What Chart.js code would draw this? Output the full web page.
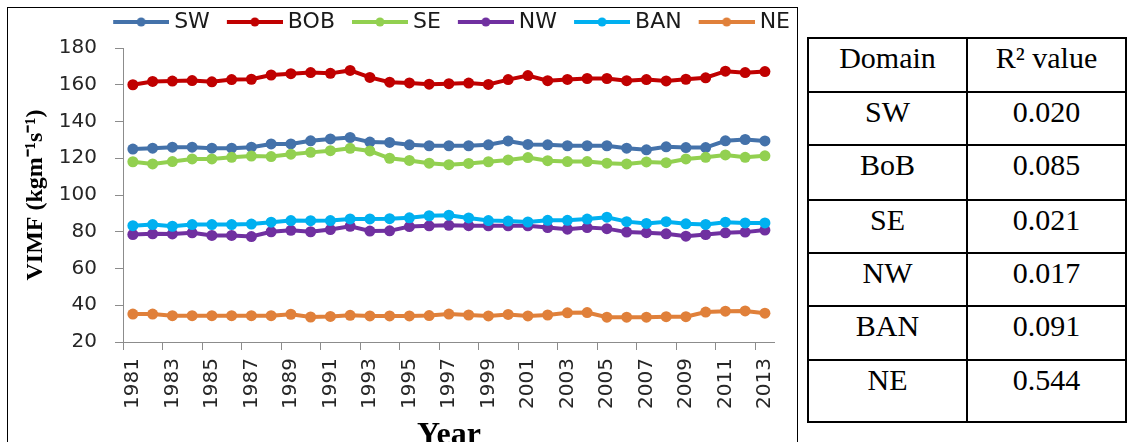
<!DOCTYPE html>
<html>
<head>
<meta charset="utf-8">
<script src="https://cdn.jsdelivr.net/npm/chart.js@4.4.0/dist/chart.umd.min.js"></script>
<style>
  html, body { margin: 0; padding: 0; background: #fff; width: 1127px; height: 442px; overflow: hidden; }
  .chart-box { position: absolute; left: 7px; top: 7px; width: 789px; height: 460px; border: 1px solid #000; }
  .chart-wrap { position: absolute; left: 0; top: 0; width: 789px; height: 450px; }
  table.r2 {
    position: absolute; left: 807px; top: 37px; border-collapse: collapse; table-layout: fixed;
    font-family: "Liberation Serif", "Times New Roman", serif; font-size: 30px; color: #000;
  }
  table.r2 td { border: 2px solid #000; text-align: center; vertical-align: top; padding: 2px 0 0 0; }
</style>
</head>
<body>
<div class="chart-box">
  <div class="chart-wrap"><canvas id="vimfChart"></canvas></div>
</div>
<table class="r2" id="r2Table">
  <colgroup><col style="width:159px"><col style="width:159px"></colgroup>
  <tbody></tbody>
</table>
<script>
// --- Dados ---
const years = ['1981','1982','1983','1984','1985','1986','1987','1988','1989','1990','1991',
               '1992','1993','1994','1995','1996','1997','1998','1999','2000','2001','2002',
               '2003','2004','2005','2006','2007','2008','2009','2010','2011','2012','2013'];

const swValues  = [125, 125.5, 126, 126, 125.5, 125.5, 126, 127.8, 127.8, 129.5, 130.5, 131.3, 128.8, 128.6, 127.3, 126.8, 126.8,
                   126.8, 127.3, 129.4, 127.5, 127.3, 126.8, 126.8, 126.8, 125.5, 124.6, 126.2, 125.8, 125.8, 129.5, 130.2, 129.4];
const bobValues = [160, 161.8, 162, 162.3, 161.6, 162.8, 163, 165.3, 166, 166.6, 166.2, 167.8, 164, 161.4, 161, 160.3, 160.6,
                   160.9, 160.2, 162.8, 165, 162.2, 162.9, 163.4, 163.4, 162.2, 162.8, 162.1, 163, 163.8, 167.4, 166.6, 167.2];
const seValues  = [118.1, 116.9, 118.2, 119.6, 119.6, 120.5, 121.2, 120.9, 122.2, 123.2, 124.1, 125.4, 124, 120, 118.8, 117.3, 116.5,
                   117.2, 118.1, 119.1, 120.4, 118.7, 118.2, 118.2, 117.3, 116.9, 118, 117.6, 119.6, 120.5, 121.8, 120.5, 121.3];
const nwValues  = [78.5, 78.9, 78.8, 79.4, 78, 78, 77.4, 80, 80.8, 80, 81.2, 83, 80.4, 80.5, 82.8, 83.2, 83.5,
                   83.3, 83.2, 83.2, 83.2, 82.3, 81.4, 82.3, 81.7, 79.8, 79.5, 78.9, 77.6, 78.5, 79.4, 79.8, 80.9];
const banValues = [83.3, 83.9, 83, 83.9, 83.9, 83.9, 84.2, 85.2, 86.1, 86, 86.1, 87, 87, 87.1, 87.6, 88.7, 89,
                   87.5, 86.1, 85.8, 85.3, 86.2, 86.2, 86.9, 87.9, 85.5, 84.5, 85.5, 84.3, 84, 85.2, 84.8, 84.8];
const neValues  = [35.2, 35.2, 34.3, 34.3, 34.3, 34.3, 34.3, 34.3, 35.1, 33.6, 33.9, 34.5, 34.2, 34.2, 34.2, 34.4, 35.2,
                   34.7, 34.2, 35, 34.2, 34.7, 35.9, 36, 33.5, 33.5, 33.5, 33.8, 33.8, 36.3, 36.8, 36.9, 35.7];

const seriesNames  = ['SW', 'BOB', 'SE', 'NW', 'BAN', 'NE'];
const seriesValues = [swValues, bobValues, seValues, nwValues, banValues, neValues];
const seriesColors = ['#4472AA', '#C00000', '#92D050', '#7030A0', '#00B0F0', '#E0803A'];

// tabela de R²
const domains  = ['SW', 'BoB', 'SE', 'NW', 'BAN', 'NE'];
const r2Values = ['0.020', '0.085', '0.021', '0.017', '0.091', '0.544'];

// --- Estilo ---
const axisGray  = '#8c8c8c';
const textColor = '#262626';
const sansFont  = '"DejaVu Sans", sans-serif';
const serifFont = '"Liberation Serif", "Times New Roman", serif';

// --- Tabela ---
function buildTable() {
    const tbody = document.querySelector('#r2Table tbody');
    const rowHeights = [54, 53, 55, 53, 53, 54, 62];
    tbody.innerHTML = `<tr style="height:${rowHeights[0]}px"><td>Domain</td><td>R² value</td></tr>`;
    domains.forEach((d, i) => {
        tbody.innerHTML += `<tr style="height:${rowHeights[i + 1]}px"><td>${d}</td><td>${r2Values[i]}</td></tr>`;
    });
}

// ícone da legenda: linha com marcador no meio
function makeLegendIcon(color) {
    const c = document.createElement('canvas');
    c.width = 76;
    c.height = 12;
    const g = c.getContext('2d');
    g.strokeStyle = color;
    g.lineWidth = 4;
    g.beginPath();
    g.moveTo(20, 6);
    g.lineTo(76, 6);
    g.stroke();
    g.fillStyle = color;
    g.beginPath();
    g.arc(48, 6, 4.5, 0, Math.PI * 2);
    g.fill();
    return c;
}
const legendIcons = seriesColors.map(makeLegendIcon);

// altura fixa da legenda, para posicionar a área do gráfico
const legendHeightPlugin = {
    id: 'legendHeight',
    afterInit(chart) {
        const legend = chart.legend;
        if (!legend) return;
        const fit = legend.fit.bind(legend);
        legend.fit = () => { fit(); legend.height = 40; };
    }
};

function renderChart() {
    const ctx = document.getElementById('vimfChart').getContext('2d');
    new Chart(ctx, {
        type: 'line',
        data: {
            labels: years,
            datasets: seriesNames.map((name, i) => ({
                label: name,
                data: seriesValues[i],
                borderColor: seriesColors[i],
                backgroundColor: seriesColors[i],
                pointBackgroundColor: seriesColors[i],
                borderWidth: 4,
                pointRadius: 5.5,
                pointHoverRadius: 5.5,
                pointBorderWidth: 0,
                tension: 0,
                order: seriesNames.length - 1 - i
            }))
        },
        options: {
            responsive: true,
            maintainAspectRatio: false,
            animation: false,
            layout: { padding: { left: 0, right: 4, top: 0, bottom: 0 } },
            plugins: {
                tooltip: { enabled: false },
                legend: {
                    position: 'top',
                    align: 'end',
                    labels: {
                        usePointStyle: true,
                        pointStyleWidth: 64,
                        padding: 3,
                        color: '#1a1a1a',
                        font: { family: sansFont, size: 22 },
                        sort: (a, b) => a.datasetIndex - b.datasetIndex,
                        generateLabels: chart => Chart.defaults.plugins.legend.labels.generateLabels(chart)
                            .map(item => ({ ...item, pointStyle: legendIcons[item.datasetIndex] }))
                    }
                }
            },
            scales: {
                x: {
                    offset: true,
                    grid: {
                        display: true,
                        drawOnChartArea: false,
                        drawTicks: true,
                        tickLength: 8,
                        offset: true,
                        color: c => (c.index % 2 === 0 ? axisGray : 'rgba(0,0,0,0)')
                    },
                    border: { display: true, color: axisGray, width: 1 },
                    ticks: {
                        autoSkip: false,
                        minRotation: 90,
                        maxRotation: 90,
                        padding: 8,
                        color: textColor,
                        font: { family: sansFont, size: 20 },
                        callback: (v, i) => (i % 2 === 0 ? years[i] : '')
                    },
                    title: {
                        display: true,
                        text: 'Year',
                        color: '#000',
                        font: { family: serifFont, size: 32, weight: 'bold' },
                        padding: { top: 0, bottom: 3 }
                    },
                    afterFit: scale => { scale.height = 116; }
                },
                y: {
                    min: 20,
                    max: 180,
                    grid: { drawOnChartArea: false, drawTicks: true, tickLength: 8, color: axisGray },
                    border: { display: true, color: axisGray, width: 1 },
                    ticks: {
                        stepSize: 20,
                        padding: 18,
                        color: textColor,
                        font: { family: sansFont, size: 20 }
                    },
                    title: {
                        display: true,
                        text: 'VIMF (kgm⁻¹s⁻¹)',
                        color: '#000',
                        font: { family: serifFont, size: 24, weight: 'bold' },
                        padding: { top: 13, bottom: 0 }
                    },
                    afterFit: scale => { scale.width = 115; }
                }
            }
        },
        plugins: [legendHeightPlugin]
    });
}

buildTable();
renderChart();
</script>
</body>
</html>
